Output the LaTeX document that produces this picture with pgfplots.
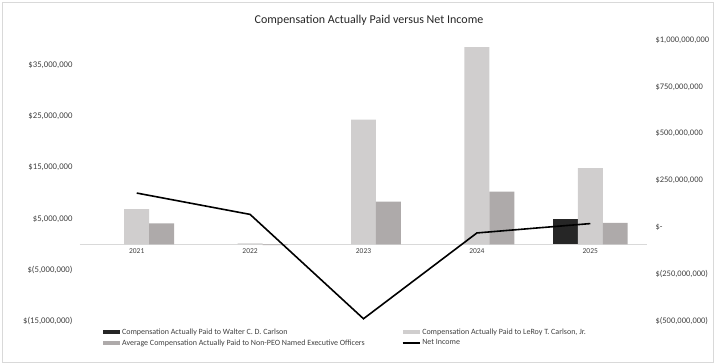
\documentclass[border=0pt]{standalone}
\usepackage{pgfplots}
\pgfplotsset{compat=1.18}
\usepackage{fontspec}
\setmainfont{Carlito}
\definecolor{cdark}{HTML}{262626}
\definecolor{clight}{HTML}{D0CECE}
\definecolor{cmid}{HTML}{AEAAAA}
\definecolor{cgrid}{HTML}{D9D9D9}
\pgfplotsset{
  barleg/.style={legend image code/.code={\fill[##1] (0pt,-1.7pt) rectangle (17pt,1.7pt);}},
  lineleg/.style={legend image code/.code={\draw[##1] (0pt,0pt) -- (17pt,0pt);}},
}
\begin{document}
\begin{tikzpicture}[x=1pt,y=1pt]
\useasboundingbox (0,0) rectangle (716,364);
\draw[cgrid, line width=0.8pt] (2,2) rectangle (713,361.5);
\node[font=\fontsize{12}{14}\selectfont, text=black!85] at (369,343.3) {Compensation Actually Paid versus Net Income};
\begin{axis}[
  at={(80pt,43pt)}, anchor=south west,
  scale only axis, width=567pt, height=281pt,
  xmin=-0.5, xmax=4.5, ymin=-15e6, ymax=40e6,
  axis x line=middle, axis y line=left,
  x axis line style={-, draw=cgrid, line width=1pt},
  y axis line style={draw=none},
  major tick length=0pt,
  scaled y ticks=false,
  xtick={0,1,2,3,4},
  xticklabels={2021,2022,2023,2024,2025},
  xticklabel style={font=\fontsize{7.5}{9}\selectfont, text=black!75, yshift=-1pt},
  ytick={-15e6,-5e6,5e6,15e6,25e6,35e6},
  yticklabels={\$(15{,}000{,}000),\$(5{,}000{,}000),\$5{,}000{,}000,\$15{,}000{,}000,\$25{,}000{,}000,\$35{,}000{,}000},
  yticklabel style={font=\fontsize{8.7}{10}\selectfont, text=black!75, anchor=east, xshift=-4pt},
  clip=false,
  legend columns=2,
  legend cell align=left,
  legend style={draw=none, fill=none, at={(0.035,-0.012)}, anchor=north west,
    font=\fontsize{8}{9}\selectfont, text=black!75,
    row sep=0pt,
    /tikz/column 2/.style={column sep=35pt}},
]
\addplot[fill=cdark, draw=none, ybar, bar width=0.22, bar shift=-0.22, barleg]
  coordinates {(4,5.0e6)};
\addlegendentry{Compensation Actually Paid to Walter C. D. Carlson}
\addplot[fill=clight, draw=none, ybar, bar width=0.22, bar shift=0, barleg]
  coordinates {(0,6.9e6) (1,0.2e6) (2,24.4e6) (3,38.6e6) (4,14.9e6)};
\addlegendentry{Compensation Actually Paid to LeRoy T. Carlson, Jr.}
\addplot[fill=cmid, draw=none, ybar, bar width=0.22, bar shift=0.22, barleg]
  coordinates {(0,4.1e6) (1,-0.15e6) (2,8.35e6) (3,10.3e6) (4,4.2e6)};
\addlegendentry{Average Compensation Actually Paid to Non-PEO Named Executive Officers}
\addlegendimage{black, line width=1.5pt, lineleg}
\addlegendentry{Net Income}
\end{axis}
\begin{axis}[
  at={(80pt,43pt)}, anchor=south west,
  scale only axis, width=567pt, height=281pt,
  xmin=-0.5, xmax=4.5, ymin=-500e6, ymax=1000e6,
  axis x line=none, axis y line*=right,
  y axis line style={draw=none},
  major tick length=0pt,
  scaled y ticks=false,
  ytick={-500e6,-250e6,0,250e6,500e6,750e6,1000e6},
  yticklabels={\$(500{,}000{,}000),\$(250{,}000{,}000),\$-,\$250{,}000{,}000,\$500{,}000{,}000,\$750{,}000{,}000,\$1{,}000{,}000{,}000},
  yticklabel style={font=\fontsize{8.5}{10}\selectfont, text=black!75, anchor=west, xshift=5pt},
  clip=false,
]
\addplot[black, line width=1.6pt, mark=none] coordinates {(0,183e6) (1,69e6) (2,-488e6) (3,-30e6) (4,20e6)};
\end{axis}
\end{tikzpicture}
\end{document}
